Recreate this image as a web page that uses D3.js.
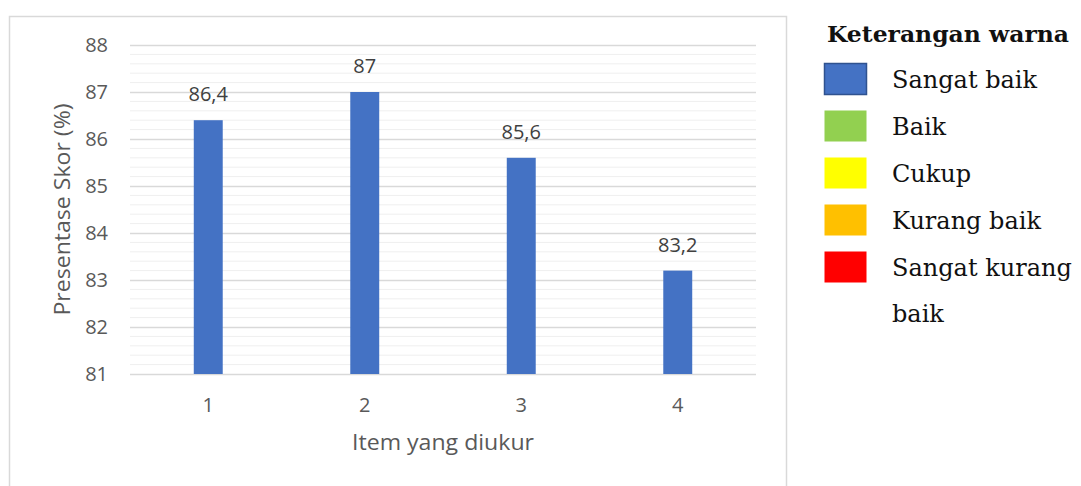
<!DOCTYPE html>
<html>
<head>
<meta charset="utf-8">
<script src="https://cdn.jsdelivr.net/npm/d3@7"></script>
<style>
  body { margin: 0; background: #fff; }
  svg { display: block; }
</style>
</head>
<body>
<div id="chart"></div>
<script>
// data
const items = ["1", "2", "3", "4"];
const scores = [86.4, 87, 85.6, 83.2];
const scoreLabels = ["86,4", "87", "85,6", "83,2"];
const yTicks = [81, 82, 83, 84, 85, 86, 87, 88];

const legendLabels = [["Sangat baik"], ["Baik"], ["Cukup"], ["Kurang baik"], ["Sangat kurang", "baik"]];
const legendColors = ["#4472C4", "#92D050", "#FFFF00", "#FFC000", "#FF0000"];

const W = 1081, H = 486;
const margin = {top: 45, right: 325, bottom: 112, left: 130};
const width = W - margin.left - margin.right;
const height = H - margin.top - margin.bottom;

const svg = d3.select("#chart").append("svg")
    .attr("width", W)
    .attr("height", H);

// chart frame
svg.append("rect")
    .attr("x", 9.5).attr("y", 16.5)
    .attr("width", 777).attr("height", 480)
    .attr("fill", "none")
    .attr("stroke", "#d9d9d9")
    .attr("stroke-width", 1.5);

const g = svg.append("g")
    .attr("transform", "translate(" + margin.left + "," + margin.top + ")");

const x = d3.scaleBand()
    .domain(items)
    .range([0, width])
    .paddingInner(0.815)
    .paddingOuter(0.4075);

const y = d3.scaleLinear()
    .domain([81, 88])
    .range([height, 0]);

// minor grid every 0.2
g.append("g")
    .selectAll("line")
    .data(d3.range(81, 88.001, 0.2).filter(v => Math.abs(v - Math.round(v)) > 0.01))
    .enter().append("line")
    .attr("x1", 0).attr("x2", width)
    .attr("y1", d => y(d)).attr("y2", d => y(d))
    .attr("stroke", "#efefef")
    .attr("stroke-width", 1);

// major grid + y labels
const yAxis = d3.axisLeft(y)
    .tickValues(yTicks)
    .tickSize(-width)
    .tickPadding(22)
    .tickFormat(d3.format("d"));

g.append("g")
    .attr("class", "y-axis")
    .call(yAxis)
    .call(a => a.select(".domain").remove())
    .call(a => a.selectAll("line").attr("stroke", "#d9d9d9").attr("stroke-width", 1.5))
    .call(a => a.selectAll("text")
        .attr("fill", "#595959")
        .style("font-family", "Open Sans")
        .style("font-size", "20px"));

// x labels
const xAxis = d3.axisBottom(x).tickSize(0).tickPadding(24);
g.append("g")
    .attr("transform", "translate(0," + height + ")")
    .call(xAxis)
    .call(a => a.select(".domain").remove())
    .call(a => a.selectAll("text")
        .attr("fill", "#595959")
        .style("font-family", "Open Sans")
        .style("font-size", "20px"));

// bars
g.selectAll(".bar")
    .data(scores)
    .enter().append("rect")
    .attr("class", "bar")
    .attr("x", (d, i) => x(items[i]))
    .attr("y", d => y(d))
    .attr("width", x.bandwidth())
    .attr("height", d => height - y(d))
    .attr("fill", "#4472C4");

// value labels
g.selectAll(".val")
    .data(scores)
    .enter().append("text")
    .attr("class", "val")
    .attr("x", (d, i) => x(items[i]) + x.bandwidth() / 2)
    .attr("y", d => y(d) - 19)
    .attr("text-anchor", "middle")
    .attr("fill", "#404040")
    .style("font-family", "Open Sans")
    .style("font-size", "20px")
    .text((d, i) => scoreLabels[i]);

// axis titles
svg.append("text")
    .attr("x", margin.left + width / 2)
    .attr("y", 450)
    .attr("text-anchor", "middle")
    .attr("fill", "#595959")
    .attr("textLength", 182)
    .attr("lengthAdjust", "spacingAndGlyphs")
    .style("font-family", "Open Sans")
    .style("font-size", "22px")
    .text("Item yang diukur");

svg.append("text")
    .attr("transform", "translate(70," + (margin.top + height / 2) + ")rotate(-90)")
    .attr("text-anchor", "middle")
    .attr("fill", "#595959")
    .attr("textLength", 212)
    .attr("lengthAdjust", "spacingAndGlyphs")
    .style("font-family", "Open Sans")
    .style("font-size", "21px")
    .text("Presentase Skor (%)");

// legend
const legend = svg.append("g");

legend.append("text")
    .attr("x", 827).attr("y", 42)
    .attr("fill", "#111")
    .attr("textLength", 242)
    .attr("lengthAdjust", "spacingAndGlyphs")
    .style("font-family", "DejaVu Serif")
    .style("font-weight", "bold")
    .style("font-size", "22px")
    .text("Keterangan warna");

const legendItems = legend.selectAll(".leg")
    .data(legendColors)
    .enter().append("g")
    .attr("class", "leg")
    .attr("transform", (d, i) => "translate(0," + (i * 47) + ")");

legendItems.append("rect")
    .attr("x", 824.5).attr("y", 63.5)
    .attr("width", 42).attr("height", 31)
    .attr("fill", d => d)
    .attr("stroke", (d, i) => i === 0 ? "#2F528F" : "none")
    .attr("stroke-width", 1.5);

legendItems.append("text")
    .attr("x", 892).attr("y", 88)
    .attr("fill", "#111")
    .style("font-family", "DejaVu Serif")
    .style("font-size", "24px")
    .selectAll("tspan")
    .data((d, i) => legendLabels[i])
    .enter().append("tspan")
    .attr("x", 892)
    .attr("dy", (d, j) => j === 0 ? 0 : 46)
    .text(d => d);
</script>
</body>
</html>
